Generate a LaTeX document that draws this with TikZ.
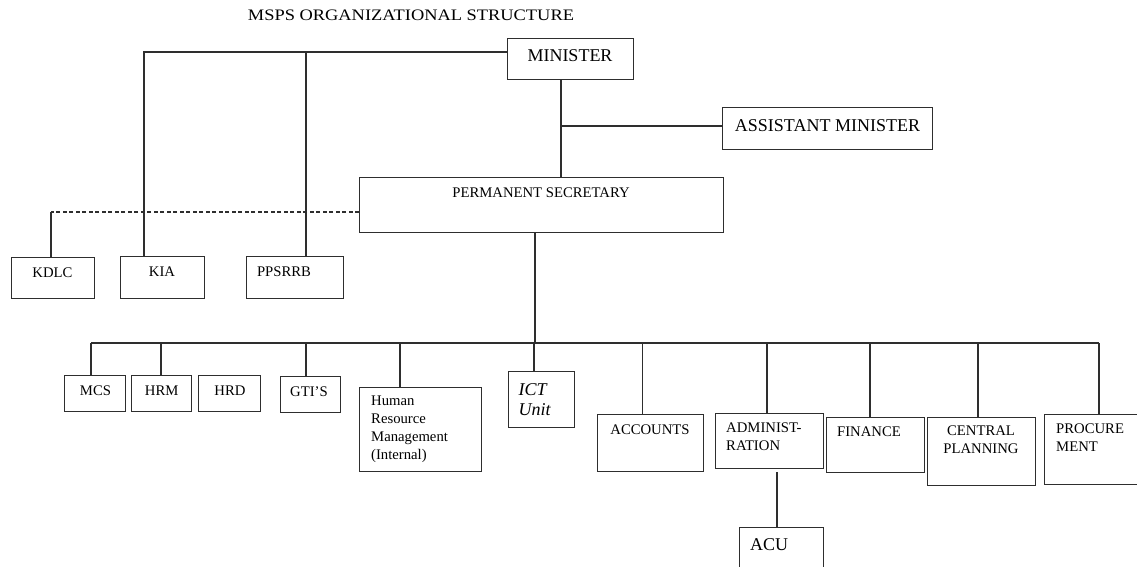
\documentclass[tikz,border=0pt]{standalone}
\usepackage{fontspec}
\setmainfont{Liberation Serif}
\usetikzlibrary{calc}
\definecolor{ink}{HTML}{2E2E2E}
\tikzset{
  box/.style={draw=ink, line width=1.3pt, inner sep=0pt, anchor=north west, fill=white},
  conn/.style={draw=ink, line width=1.1pt},
  txt/.style={inner sep=0pt, text=black, font=\fontsize{14.7}{17.5}\selectfont},
  big/.style={inner sep=0pt, text=black, font=\fontsize{18}{20}\selectfont},
}
\begin{document}
\begin{tikzpicture}[x=1pt,y=-1pt]
\useasboundingbox (0,0) rectangle (1137,567);
\clip (0,0) rectangle (1137,567);
\fill[white] (0,0) rectangle (1137,567);

% title
\node[inner sep=0pt, anchor=base] (title) at (411,20.7) {\scalebox{1.15}[1]{\fontsize{16}{18}\selectfont MSPS ORGANIZATIONAL STRUCTURE}};

% junction coordinates
\coordinate (jkia) at (144,52);
\coordinate (jpps) at (306,52);
\coordinate (jam) at (561,126);
\coordinate (jkd) at (51,212);
\coordinate (bus) at (535,343);
\coordinate (busl) at (91,343);
\coordinate (busr) at (1099,343);

% boxes
\node[box, minimum width=126pt, minimum height=41pt] (min) at (507,38) {};
\node[box, minimum width=210pt, minimum height=42pt] (am) at (722,107) {};
\node[box, minimum width=364pt, minimum height=55pt] (ps) at (359,177) {};
\node[box, minimum width=83.3pt, minimum height=41pt] (kdlc) at (10.7,257) {};
\node[box, minimum width=84pt, minimum height=42pt] (kia) at (120,256) {};
\node[box, minimum width=97pt, minimum height=42pt] (pps) at (246,256) {};
\node[box, minimum width=61.5pt, minimum height=36pt] (mcs) at (63.5,375) {};
\node[box, minimum width=60pt, minimum height=36pt] (hrm) at (131,375) {};
\node[box, minimum width=61.5pt, minimum height=36pt] (hrd) at (198,375) {};
\node[box, minimum width=60pt, minimum height=36pt] (gti) at (280,376) {};
\node[box, minimum width=122pt, minimum height=84pt] (hrmi) at (359,387) {};
\node[box, minimum width=66pt, minimum height=56pt] (ict) at (508,371) {};
\node[box, minimum width=105.5pt, minimum height=57pt] (acc) at (597,414) {};
\node[box, minimum width=108pt, minimum height=55pt] (adm) at (715,413) {};
\node[box, minimum width=98.5pt, minimum height=55pt] (fin) at (825.5,417) {};
\node[box, minimum width=108pt, minimum height=68pt] (cen) at (927,417) {};
\node[box, minimum width=100pt, minimum height=70pt] (pro) at (1044,414) {};
\node[box, minimum width=84pt, minimum height=50pt] (acu) at (739,527) {};

% connectors
\draw[conn] (min.west |- jkia) -- (jkia) -- (jkia |- kia.north);
\draw[conn] (jpps) -- (jpps |- pps.north);
\draw[conn] (jam |- min.south) -- (jam |- ps.north);
\draw[conn] (jam) -- (jam -| am.west);
\draw[conn, dash pattern=on 4pt off 2.5pt] (jkd -| ps.west) -- (jkd);
\draw[conn] (jkd) -- (jkd |- kdlc.north);
\draw[conn] (bus |- ps.south) -- (bus);
\draw[conn] (busl) -- (busr);
\draw[conn] (busl) -- (busl |- mcs.north);
\draw[conn] (161,343) -- (161,375) coordinate (xhrm);
\draw[conn] (306,343) -- (306,376) coordinate (xgti);
\draw[conn] (400,343) -- (400,387) coordinate (xhrmi);
\draw[conn] (534,343) -- (534,371) coordinate (xict);
\draw[conn] (642.5,343) -- (642.5,414) coordinate (xacc);
\draw[conn] (767,343) -- (767,413) coordinate (xadm);
\draw[conn] (870,343) -- (870,417) coordinate (xfin);
\draw[conn] (978,343) -- (978,417) coordinate (xcen);
\draw[conn] (busr) -- (busr |- pro.north);
\draw[conn] (777,472) coordinate (xacu) -- (xacu |- acu.north);

% texts
\node[big, anchor=base] (min-t) at (570,62) {MINISTER};
\node[big, anchor=base] (am-t) at (827.5,131.5) {ASSISTANT MINISTER};
\node[txt, anchor=base] (ps-t) at (541,197) {PERMANENT SECRETARY};
\node[txt, anchor=base] (kdlc-t) at (52.5,277) {KDLC};
\node[txt, anchor=base] (kia-t) at (162,276) {KIA};
\node[txt, anchor=base] (pps-t) at (284,276) {PPSRRB};
\node[txt, anchor=base] (mcs-t) at (95.5,395) {MCS};
\node[txt, anchor=base] (hrm-t) at (161.7,395) {HRM};
\node[txt, anchor=base] (hrd-t) at (230,395) {HRD};
\node[txt, anchor=base] (gti-t) at (309,396.5) {GTI'S};
\node[txt, anchor=north west, align=left, font=\fontsize{14.7}{18}\selectfont] (hrmi-t) at (371,396) {Human\\Resource\\Management\\(Internal)};
\node[big, anchor=north west, align=left, font=\fontsize{18}{20.5}\selectfont\itshape] (ict-t) at (518.5,383) {ICT\\Unit};
\node[txt, anchor=base] (acc-t) at (650,434) {ACCOUNTS};
\node[txt, anchor=north west, align=left] (adm-t) at (726,423) {ADMINIST-\\RATION};
\node[txt, anchor=base] (fin-t) at (869,436) {FINANCE};
\node[txt, anchor=north, align=center] (cen-t) at (981,425.7) {CENTRAL\\PLANNING};
\node[txt, anchor=north west, align=left, font=\fontsize{14.7}{18}\selectfont] (pro-t) at (1056,424) {PROCURE\\MENT};
\node[big, anchor=base west] (acu-t) at (750,550) {ACU};
\end{tikzpicture}
\end{document}
